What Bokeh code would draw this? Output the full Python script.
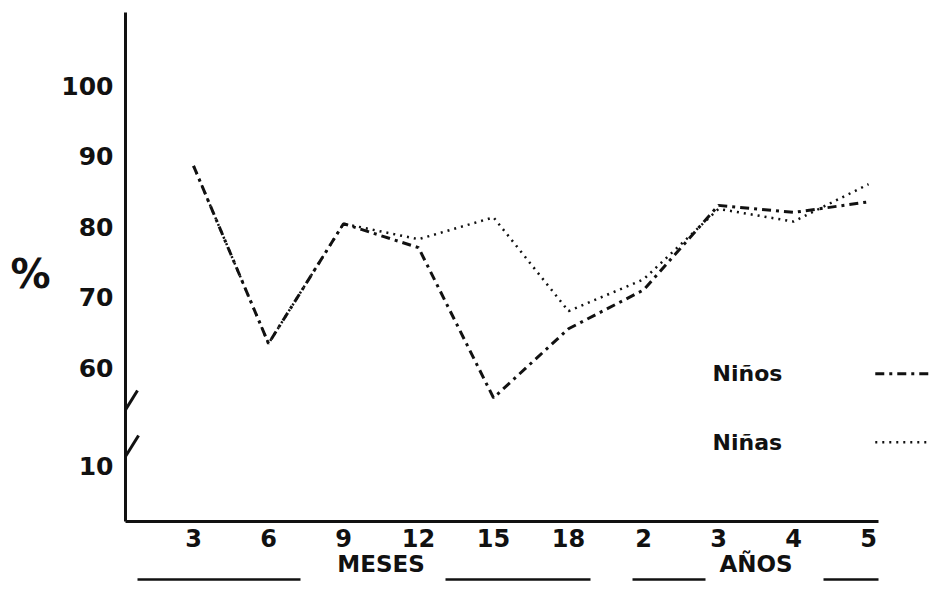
from bokeh.plotting import figure
from bokeh.models import Range1d, FixedTicker, LinearAxis
from bokeh.core.properties import value
from bokeh.embed import file_html
from bokeh.resources import INLINE

# ---------------- data ----------------
x_labels = ["3", "6", "9", "12", "15", "18", "2", "3", "4", "5"]
group_names = ["MESES", "AÑOS"]
group_sizes = [6, 4]
ninos = [88.6, 63.4, 80.4, 77.0, 55.7, 65.5, 71.0, 83.0, 82.0, 83.5]
ninas = [88.6, 63.4, 80.4, 78.2, 81.3, 68.0, 72.5, 82.5, 80.7, 86.0]
y_tick_values = [60, 70, 80, 90, 100]
y_break_label = "10"
y_unit = "%"
series_names = ["Niños", "Niñas"]

# ---------------- layout constants ----------------
FONT = "DejaVu Sans"
INK = "#111111"
X_START, X_END = -0.907, 9.813
Y_START, Y_END = 38.16, 112.06
X_AXIS_END = 9.133
Y_AXIS_TOP = 110.35
BREAK_POS = 46.1          # where the "10" of the broken axis sits
UNIT_POS = 73.3           # vertical position of the "%" sign

xs = list(range(len(x_labels)))

p = figure(width=929, height=584, output_backend="svg", toolbar_location=None,
           x_range=Range1d(X_START, X_END), y_range=Range1d(Y_START, Y_END),
           min_border_left=125, min_border_right=0, min_border_top=0,
           min_border_bottom=63)
p.xgrid.visible = False
p.ygrid.visible = False
p.outline_line_color = None
p.background_fill_color = "white"
p.border_fill_color = "white"


def style_axis(ax, size, standoff, line=True):
    ax.axis_line_width = 3 if line else 0
    ax.axis_line_color = INK if line else None
    ax.major_tick_line_color = None
    ax.minor_tick_line_color = None
    ax.major_tick_out = 0
    ax.major_tick_in = 0
    ax.minor_tick_out = 0
    ax.minor_tick_in = 0
    ax.major_label_text_font = FONT
    ax.major_label_text_font_style = "bold"
    ax.major_label_text_font_size = size
    ax.major_label_text_color = INK
    ax.major_label_standoff = standoff


# x axis
xa = p.xaxis[0]
xa.ticker = FixedTicker(ticks=xs)
xa.major_label_overrides = {i: lab for i, lab in enumerate(x_labels)}
xa.bounds = (X_START, X_AXIS_END)
style_axis(xa, "24px", 7)

# group axis (MESES / AÑOS)
centers = []
start = 0
for n in group_sizes:
    centers.append(start + (n - 1) / 2)
    start += n
ga = LinearAxis(ticker=FixedTicker(ticks=centers),
                major_label_overrides={c: g for c, g in zip(centers, group_names)})
style_axis(ga, "23px", 1, line=False)
p.add_layout(ga, "below")

# underlines of the group names (zero-height axes, line only)
for (x0, x1) in [(-0.747, 1.43), (3.36, 5.29), (5.85, 6.83), (8.4, X_AXIS_END)]:
    ua = LinearAxis(ticker=FixedTicker(ticks=[]), bounds=(x0, x1))
    style_axis(ua, "1px", 0)
    ua.axis_line_width = 2.5
    p.add_layout(ua, "below")

# y axis (broken)
ya = p.yaxis[0]
ya.ticker = FixedTicker(ticks=[BREAK_POS] + y_tick_values)
ya.major_label_overrides = {BREAK_POS: y_break_label}
ya.bounds = (Y_START, Y_AXIS_TOP)
style_axis(ya, "25px", 12)

# "%" unit sign as an extra left axis
pa = LinearAxis(ticker=FixedTicker(ticks=[UNIT_POS]),
                major_label_overrides={UNIT_POS: y_unit})
style_axis(pa, "40px", 8, line=False)
p.add_layout(pa, "left")

# break marks on the y axis
p.segment(x0=[-0.747, -0.733], y0=[56.74, 50.35], x1=[-1.08, -1.133], y1=[51.06, 43.55],
          line_color=INK, line_width=3)

# series
dashes = ["9 5 3 5", "2 5"]
widths = [3, 2.5]
p.line(xs, ninos, line_color=INK, line_width=widths[0], line_dash=dashes[0])
p.line(xs, ninas, line_color=INK, line_width=widths[1], line_dash=dashes[1])

# manual legend (text first, line sample to the right)
legend_y = [59.1, 49.4]
p.text(x=[6.92, 6.92], y=legend_y, text=series_names, text_font=value(FONT),
       text_font_style="bold", text_font_size="22px", text_baseline="middle",
       text_color=INK)
for ly, d, w in zip(legend_y, dashes, widths):
    p.segment(x0=[9.09], y0=[ly], x1=[X_END], y1=[ly], line_color=INK,
              line_width=w, line_dash=d)

open("out.html", "w").write(file_html(p, INLINE))
